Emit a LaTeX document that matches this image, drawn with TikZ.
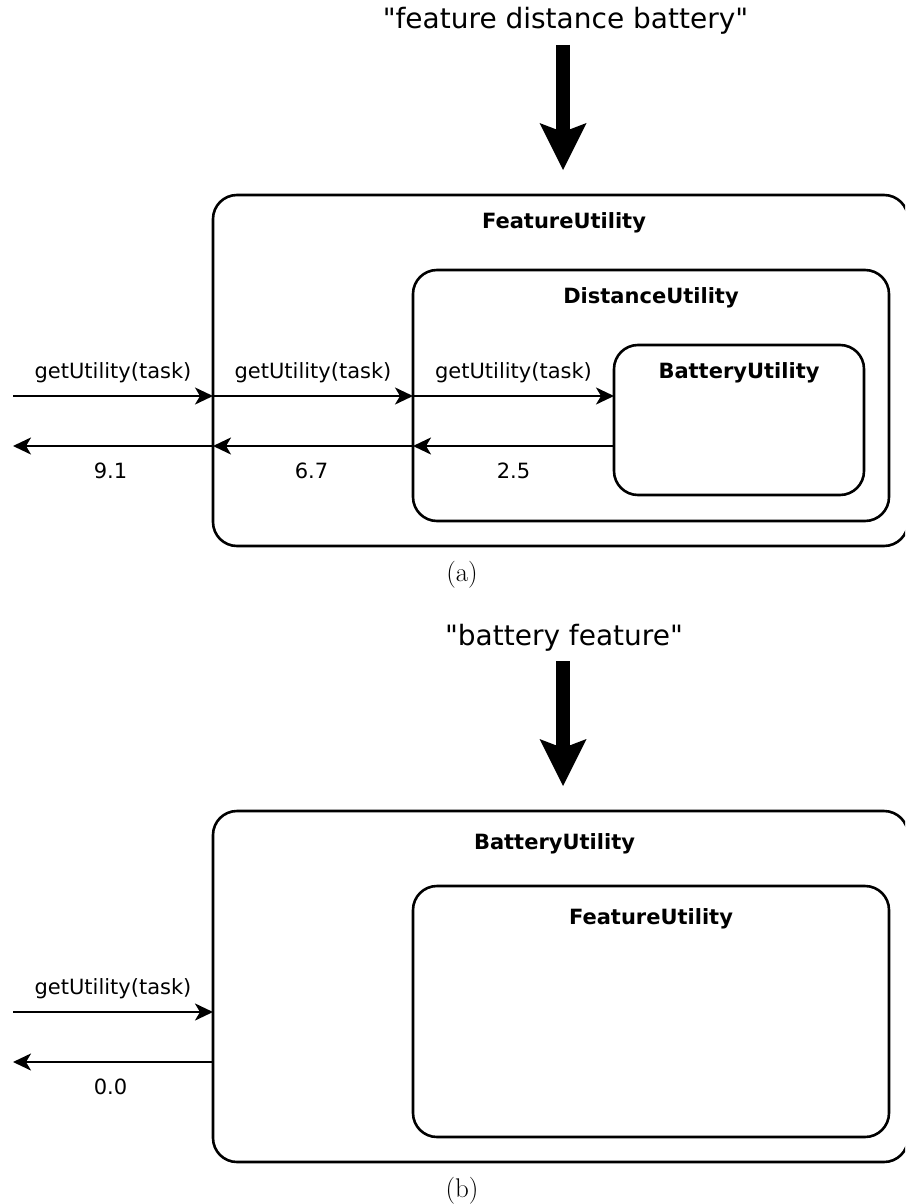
\documentclass[tikz,border=0pt]{standalone}
\usepackage{fontspec}
\usetikzlibrary{arrows.meta}
% Sans face for the component names, calls and query strings
\newfontfamily\compfont{DejaVu Sans}

\begin{document}
\begin{tikzpicture}[x=1pt,y=-1pt,
  box/.style={draw, line width=2.6pt, rounded corners=24pt, rectangle,
    inner sep=0pt, outer sep=0pt, anchor=north west},
  boxtitle/.style={font=\compfont\fontsize{21}{25}\selectfont\bfseries,
    anchor=base, inner sep=0pt},
  msg/.style={font=\compfont\fontsize{21}{25}\selectfont,
    anchor=base, inner sep=0pt},
  call/.style={line width=2.4pt,
    -{Stealth[length=18pt,width=17pt,inset=5pt]}},
  fat/.style={line width=14pt,
    -{Stealth[length=47pt,width=47pt,inset=9pt,line width=0pt]}},
  query/.style={font=\compfont\fontsize{28}{32}\selectfont,
    anchor=base, inner sep=0pt},
  caption/.style={font=\fontsize{27}{31}\selectfont, anchor=base, inner sep=0pt}]

\useasboundingbox (0,0) rectangle (905,1204);
\clip (0,0) rectangle (905,1204);

% ---------------- (a) ----------------
\node[query] (qA) at (565.5,29) {"feature distance battery"};
\coordinate (tipA) at (563,170);
\draw[fat] ([yshift=-16pt]qA.base -| tipA) -- (tipA);

\node[box, minimum width=695pt, minimum height=351pt] (fuA) at (213,195) {};
\node[box, minimum width=476pt, minimum height=251pt] (duA) at (413,270) {};
\node[box, minimum width=250pt, minimum height=150pt] (baA) at (614,345) {};

\node[boxtitle] (fuAt) at (564,228) {FeatureUtility};
\node[boxtitle] (duAt) at (651,303) {DistanceUtility};
\node[boxtitle] (baAt) at (739,378) {BatteryUtility};

\coordinate (inA) at (13,396);
\coordinate (outA) at (13,446);

\draw[call] (inA) -- (inA -| fuA.west)
  node[msg, midway, yshift=18pt] {getUtility(task)};
\draw[call] (inA -| fuA.west) -- (inA -| duA.west)
  node[msg, midway, yshift=18pt] {getUtility(task)};
\draw[call] (inA -| duA.west) -- (inA -| baA.west)
  node[msg, midway, yshift=18pt] {getUtility(task)};

\draw[call] (outA -| baA.west) -- (outA -| duA.west)
  node[msg, midway, yshift=-32pt] {2.5};
\draw[call] (outA -| duA.west) -- (outA -| fuA.west)
  node[msg, midway, yshift=-32pt, xshift=-1.5pt] {6.7};
\draw[call] (outA -| fuA.west) -- (outA)
  node[msg, midway, yshift=-32pt, xshift=-2.5pt] {9.1};

\node[caption] (capA) at (462,581) {(a)};

% ---------------- (b) ----------------
\node[query] (qB) at (564,645) {"battery feature"};
\coordinate (tipB) at (563,786);
\draw[fat] ([yshift=-16pt]qB.base -| tipB) -- (tipB);

\node[box, minimum width=695pt, minimum height=351pt] (buB) at (213,811) {};
\node[box, minimum width=476pt, minimum height=251pt] (fuB) at (413,886) {};

\node[boxtitle] (buBt) at (554.5,849) {BatteryUtility};
\node[boxtitle] (fuBt) at (651,924) {FeatureUtility};

\coordinate (inB) at (13,1012);
\coordinate (outB) at (13,1062);

\draw[call] (inB) -- (inB -| buB.west)
  node[msg, midway, yshift=18pt] {getUtility(task)};
\draw[call] (outB -| buB.west) -- (outB)
  node[msg, midway, yshift=-32pt, xshift=-2.5pt] {0.0};

\node[caption] (capB) at (462,1197) {(b)};

\end{tikzpicture}
\end{document}
